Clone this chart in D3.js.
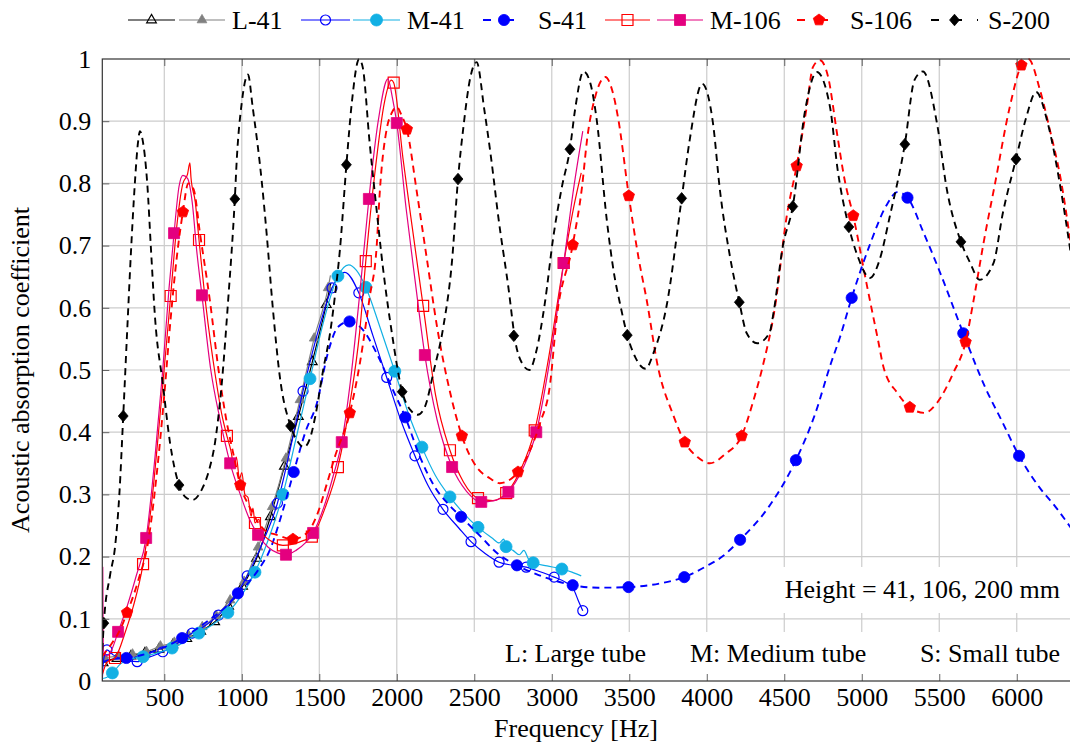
<!DOCTYPE html>
<html>
<head>
<meta charset="utf-8">
<script src="https://cdn.jsdelivr.net/npm/d3@7"></script>
<style>
  body { margin: 0; background: #fff; }
  svg { display: block; }
  svg text { font-family: "Liberation Serif", "DejaVu Serif", serif; fill: #000; }
</style>
</head>
<body>
<svg id="chart" width="1070" height="751"></svg>
<script>
// ---------- axis ticks ----------
const freqDomain = [100, 6350];
const xTicks = [500, 1000, 1500, 2000, 2500, 3000, 3500, 4000, 4500, 5000, 5500, 6000];
const yTicks = [0, 0.1, 0.2, 0.3, 0.4, 0.5, 0.6, 0.7, 0.8, 0.9, 1];
const yTickLabels = ["0", "0.1", "0.2", "0.3", "0.4", "0.5", "0.6", "0.7", "0.8", "0.9", "1"];

// ---------- measured curves [frequency Hz, absorption] ----------
// L-41, first sample (black, open triangles)
const curveL41a = [[100,0.025],[105,0.029],[150,0.034],[250,0.039],[375,0.045],[465,0.051],[555,0.058],[645,0.068],[735,0.08],[825,0.095],[915,0.12],[1005,0.152],[1095,0.197],[1185,0.264],[1275,0.345],[1365,0.425],[1455,0.513],[1545,0.605],[1575,0.64]];
const marksL41a = [[105,0.029],[195,0.036],[285,0.040],[375,0.045],[465,0.051],[555,0.058],[645,0.068],[735,0.08],[825,0.095],[915,0.12],[1005,0.152],[1095,0.197],[1185,0.264],[1275,0.345],[1365,0.425],[1455,0.513],[1545,0.605]];

// L-41, second sample (gray, filled triangles)
const curveL41b = [[100,0.03],[115,0.037],[205,0.04],[295,0.043],[385,0.047],[475,0.056],[565,0.062],[655,0.074],[745,0.087],[835,0.105],[925,0.13],[1015,0.16],[1105,0.215],[1196,0.28],[1285,0.358],[1375,0.452],[1467,0.551],[1557,0.632],[1572,0.652]];
const marksL41b = [[115,0.037],[205,0.04],[295,0.043],[385,0.047],[475,0.056],[565,0.062],[655,0.074],[745,0.087],[835,0.105],[925,0.13],[1015,0.16],[1105,0.215],[1196,0.28],[1285,0.358],[1375,0.452],[1467,0.551],[1557,0.632]];

// M-41, first sample (blue, open circles)
const curveM41a = [[100,0.0],[106,0.03],[130,0.05],[170,0.042],[230,0.035],[325,0.031],[400,0.038],[490,0.047],[580,0.06],[680,0.077],[770,0.09],[850,0.106],[940,0.13],[1035,0.169],[1130,0.22],[1230,0.286],[1310,0.37],[1395,0.466],[1490,0.56],[1582,0.632],[1665,0.657],[1755,0.624],[1845,0.556],[1935,0.488],[2025,0.42],[2117,0.362],[2200,0.315],[2298,0.276],[2400,0.246],[2479,0.224],[2570,0.205],[2660,0.191],[2750,0.186],[2835,0.183],[2920,0.176],[3015,0.167],[3100,0.157],[3140,0.148],[3170,0.13],[3200,0.113]];
const marksM41a = [[130,0.05],[325,0.031],[490,0.047],[680,0.077],[850,0.106],[1035,0.169],[1230,0.286],[1395,0.466],[1582,0.632],[1755,0.624],[1935,0.488],[2117,0.362],[2298,0.276],[2479,0.224],[2660,0.191],[2835,0.183],[3015,0.167],[3200,0.113]];

// M-41, second sample (cyan, filled circles)
const curveM41b = [[100,0.004],[130,0.006],[165,0.013],[220,0.028],[280,0.035],[363,0.039],[450,0.045],[550,0.053],[640,0.064],[723,0.077],[820,0.092],[910,0.11],[1000,0.138],[1085,0.175],[1175,0.23],[1265,0.3],[1350,0.39],[1440,0.486],[1530,0.58],[1620,0.651],[1690,0.669],[1740,0.66],[1800,0.633],[1890,0.57],[1987,0.498],[2075,0.43],[2162,0.376],[2250,0.33],[2343,0.296],[2430,0.27],[2524,0.247],[2615,0.23],[2660,0.222],[2690,0.228],[2705,0.216],[2750,0.21],[2790,0.203],[2820,0.21],[2850,0.196],[2880,0.19],[2970,0.185],[3065,0.18],[3130,0.175],[3190,0.169]];
const marksM41b = [[165,0.013],[363,0.039],[550,0.053],[723,0.077],[910,0.11],[1085,0.175],[1265,0.3],[1440,0.486],[1620,0.651],[1800,0.633],[1987,0.498],[2162,0.376],[2343,0.296],[2524,0.247],[2705,0.216],[2880,0.19],[3065,0.18]];

// S-41 (blue dashed, filled circles)
const curveS41 = [[100,0.03],[160,0.035],[255,0.037],[400,0.045],[615,0.069],[800,0.1],[900,0.12],[975,0.141],[1050,0.16],[1110,0.18],[1180,0.21],[1260,0.27],[1335,0.336],[1410,0.4],[1485,0.447],[1555,0.527],[1620,0.569],[1695,0.578],[1783,0.564],[1870,0.527],[1975,0.468],[2055,0.424],[2150,0.36],[2250,0.31],[2330,0.285],[2415,0.264],[2550,0.23],[2650,0.205],[2775,0.186],[2900,0.172],[3000,0.163],[3135,0.154],[3300,0.15],[3495,0.151],[3700,0.157],[3855,0.167],[4000,0.185],[4100,0.2],[4215,0.227],[4400,0.28],[4575,0.355],[4700,0.43],[4800,0.51],[4860,0.553],[4935,0.616],[5050,0.7],[5160,0.765],[5230,0.786],[5295,0.777],[5400,0.72],[5500,0.66],[5655,0.559],[5800,0.47],[5900,0.42],[6015,0.362],[6150,0.31],[6250,0.28],[6350,0.246]];
const marksS41 = [[255,0.037],[615,0.069],[975,0.141],[1335,0.336],[1695,0.578],[2055,0.424],[2415,0.264],[2775,0.186],[3135,0.154],[3495,0.151],[3855,0.167],[4215,0.227],[4575,0.355],[4935,0.616],[5295,0.777],[5655,0.559],[6015,0.362]];

// M-106, first sample (red, open squares)
const curveM106a = [[100,0.01],[130,0.03],[182,0.037],[250,0.08],[300,0.12],[363,0.188],[420,0.29],[470,0.42],[541,0.619],[580,0.73],[620,0.8],[650,0.815],[665,0.833],[672,0.81],[700,0.77],[724,0.709],[770,0.6],[830,0.49],[870,0.43],[904,0.394],[930,0.37],[950,0.345],[965,0.36],[985,0.325],[1000,0.335],[1020,0.3],[1040,0.295],[1060,0.265],[1072,0.278],[1085,0.254],[1110,0.26],[1130,0.238],[1150,0.232],[1210,0.222],[1265,0.218],[1330,0.22],[1400,0.226],[1452,0.232],[1540,0.28],[1620,0.344],[1700,0.45],[1760,0.56],[1800,0.675],[1860,0.82],[1920,0.93],[1965,0.966],[1980,0.962],[2040,0.84],[2105,0.72],[2170,0.603],[2250,0.46],[2343,0.371],[2430,0.32],[2524,0.294],[2620,0.29],[2706,0.302],[2800,0.34],[2890,0.403],[2980,0.52],[3077,0.672],[3140,0.76],[3190,0.817]];
const marksM106a = [[182,0.037],[363,0.188],[541,0.619],[724,0.709],[904,0.394],[1085,0.254],[1265,0.218],[1452,0.232],[1620,0.344],[1800,0.675],[1980,0.962],[2170,0.603],[2343,0.371],[2524,0.294],[2706,0.302],[2890,0.403],[3077,0.672]];

// M-106, second sample (magenta, filled squares)
const curveM106b = [[100,0.0],[103,0.183],[106,0.05],[130,0.04],[160,0.05],[202,0.079],[260,0.12],[320,0.17],[383,0.23],[440,0.36],[490,0.5],[530,0.63],[563,0.72],[595,0.795],[620,0.813],[650,0.808],[680,0.77],[710,0.69],[743,0.62],[800,0.5],[860,0.42],[925,0.35],[990,0.3],[1050,0.26],[1105,0.235],[1170,0.215],[1230,0.206],[1285,0.203],[1350,0.21],[1410,0.222],[1460,0.238],[1530,0.28],[1590,0.33],[1645,0.384],[1700,0.48],[1760,0.62],[1820,0.775],[1880,0.9],[1943,0.968],[1970,0.94],[2000,0.897],[2060,0.76],[2120,0.64],[2181,0.524],[2260,0.42],[2357,0.344],[2450,0.305],[2545,0.288],[2630,0.29],[2720,0.304],[2810,0.34],[2900,0.4],[2990,0.52],[3077,0.672],[3140,0.79],[3200,0.884]];
const marksM106b = [[202,0.079],[383,0.23],[563,0.72],[743,0.62],[925,0.35],[1105,0.235],[1285,0.203],[1460,0.238],[1645,0.384],[1820,0.775],[2000,0.897],[2181,0.524],[2357,0.344],[2545,0.288],[2720,0.304],[2900,0.4],[3077,0.672]];

// S-106 (red dashed, filled pentagons)
const curveS106 = [[100,0.04],[160,0.06],[210,0.08],[260,0.11],[330,0.16],[400,0.23],[450,0.33],[500,0.46],[540,0.58],[580,0.68],[620,0.754],[655,0.8],[690,0.79],[730,0.72],[795,0.61],[850,0.5],[900,0.42],[950,0.36],[990,0.315],[1050,0.28],[1100,0.257],[1150,0.242],[1225,0.235],[1330,0.228],[1420,0.238],[1490,0.27],[1550,0.318],[1600,0.36],[1697,0.431],[1762,0.511],[1825,0.617],[1870,0.698],[1890,0.785],[1937,0.89],[1965,0.912],[2000,0.923],[2030,0.91],[2065,0.887],[2130,0.785],[2195,0.677],[2260,0.569],[2345,0.463],[2420,0.394],[2515,0.344],[2600,0.326],[2665,0.318],[2720,0.322],[2782,0.336],[2860,0.371],[2925,0.415],[2990,0.479],[3030,0.58],[3135,0.701],[3195,0.794],[3230,0.875],[3280,0.939],[3345,0.971],[3395,0.945],[3430,0.902],[3497,0.78],[3560,0.68],[3612,0.613],[3685,0.505],[3783,0.428],[3858,0.384],[3940,0.36],[4020,0.35],[4120,0.365],[4225,0.394],[4300,0.45],[4360,0.505],[4440,0.601],[4515,0.746],[4580,0.828],[4645,0.923],[4685,0.987],[4730,0.998],[4783,0.971],[4840,0.881],[4890,0.805],[4945,0.748],[5030,0.64],[5105,0.548],[5140,0.505],[5230,0.463],[5310,0.44],[5405,0.431],[5485,0.447],[5590,0.495],[5670,0.545],[5720,0.61],[5790,0.71],[5860,0.8],[5955,0.923],[6030,0.99],[6075,1.0],[6150,0.95],[6210,0.89],[6285,0.805],[6350,0.7]];
const marksS106 = [[260,0.11],[620,0.754],[990,0.315],[1330,0.228],[1697,0.431],[2065,0.887],[2420,0.394],[2782,0.336],[3135,0.701],[3497,0.78],[3858,0.384],[4225,0.394],[4580,0.828],[4945,0.748],[5310,0.44],[5670,0.545],[6030,0.99]];

// S-200 (black dashed, filled diamonds)
const curveS200 = [[100,0.05],[110,0.093],[150,0.17],[182,0.215],[210,0.3],[235,0.426],[260,0.56],[285,0.69],[310,0.8],[330,0.865],[343,0.884],[360,0.87],[390,0.8],[415,0.69],[440,0.585],[490,0.479],[537,0.383],[595,0.315],[640,0.295],[680,0.291],[750,0.312],[790,0.34],[827,0.383],[871,0.479],[912,0.612],[955,0.775],[968,0.84],[1000,0.93],[1040,0.975],[1070,0.923],[1130,0.8],[1160,0.72],[1200,0.6],[1245,0.49],[1315,0.41],[1360,0.385],[1400,0.376],[1440,0.39],[1473,0.424],[1525,0.5],[1570,0.56],[1600,0.617],[1633,0.693],[1675,0.83],[1710,0.93],[1757,1.0],[1780,0.987],[1825,0.865],[1870,0.757],[1910,0.666],[1968,0.56],[2035,0.465],[2090,0.435],[2135,0.428],[2180,0.44],[2240,0.5],[2300,0.569],[2357,0.677],[2395,0.807],[2430,0.891],[2475,0.971],[2515,0.995],[2565,0.918],[2610,0.838],[2655,0.746],[2720,0.633],[2767,0.543],[2810,0.51],[2855,0.5],[2900,0.53],[2955,0.607],[3010,0.714],[3065,0.794],[3117,0.855],[3150,0.918],[3205,0.98],[3250,0.96],[3290,0.902],[3355,0.741],[3405,0.65],[3440,0.607],[3487,0.556],[3540,0.52],[3605,0.502],[3660,0.53],[3740,0.602],[3838,0.776],[3890,0.87],[3970,0.96],[4040,0.897],[4085,0.789],[4150,0.682],[4210,0.609],[4258,0.559],[4325,0.543],[4405,0.56],[4430,0.591],[4490,0.698],[4555,0.763],[4635,0.918],[4710,0.979],[4795,0.923],[4845,0.821],[4917,0.73],[4975,0.682],[5053,0.648],[5115,0.677],[5180,0.746],[5278,0.863],[5340,0.966],[5395,0.98],[5485,0.897],[5550,0.789],[5640,0.706],[5700,0.672],[5760,0.645],[5850,0.672],[5910,0.752],[5995,0.839],[6060,0.905],[6125,0.947],[6200,0.897],[6285,0.789],[6350,0.685]];
const marksS200 = [[110,0.093],[235,0.426],[595,0.315],[955,0.775],[1315,0.41],[1675,0.83],[2035,0.465],[2395,0.807],[2755,0.555],[3117,0.855],[3487,0.556],[3838,0.776],[4210,0.609],[4555,0.763],[4917,0.73],[5278,0.863],[5640,0.706],[5995,0.839]];

// ---------- labels ----------
const xLabel = "Frequency [Hz]";
const yLabel = "Acoustic absorption coefficient";
const heightNote = "Height = 41, 106, 200 mm";
const tubeNotes = ["L: Large tube", "M: Medium tube", "S: Small tube"];

// ---------- series styling, in drawing order ----------
const series = [
  {name: "L-41",  curve: curveL41a,  marks: marksL41a,  color: "#000000", dash: null,  width: 1.2, mark: "triangle", fill: false},
  {name: "L-41",  curve: curveL41b,  marks: marksL41b,  color: "#808080", dash: null,  width: 1.2, mark: "triangle", fill: true},
  {name: "M-41",  curve: curveM41a,  marks: marksM41a,  color: "#0000ff", dash: null,  width: 1.2, mark: "circle",   fill: false},
  {name: "M-41",  curve: curveM41b,  marks: marksM41b,  color: "#12b0e4", dash: null,  width: 1.2, mark: "circleBig", fill: true},
  {name: "S-41",  curve: curveS41,   marks: marksS41,   color: "#0000ff", dash: "7,5", width: 1.9, mark: "circleMid", fill: true},
  {name: "M-106", curve: curveM106a, marks: marksM106a, color: "#ff0000", dash: null,  width: 1.2, mark: "square",   fill: false},
  {name: "M-106", curve: curveM106b, marks: marksM106b, color: "#e4007f", dash: null,  width: 1.2, mark: "square",   fill: true},
  {name: "S-106", curve: curveS106,  marks: marksS106,  color: "#ff0000", dash: "7,5", width: 1.9, mark: "pentagon", fill: true},
  {name: "S-200", curve: curveS200,  marks: marksS200,  color: "#000000", dash: "7,5", width: 1.9, mark: "diamond",  fill: true}
];

// ---------- layout ----------
const plot = {left: 102.3, right: 1071, top: 59, bottom: 681};
const fontSize = 26;
const serif = "'Liberation Serif', 'DejaVu Serif', serif";

const svg = d3.select("#chart");
const x = d3.scaleLinear().domain(freqDomain).range([plot.left, plot.right]);
const y = d3.scaleLinear().domain([0, 1]).range([plot.bottom, plot.top]);

// marker shapes centred at the origin
function markerPath(kind) {
  const p = d3.path();
  if (kind === "triangle") {
    const r = 5.6;
    p.moveTo(0, -r);
    p.lineTo(r * 0.866, r * 0.5);
    p.lineTo(-r * 0.866, r * 0.5);
    p.closePath();
  } else if (kind === "circle") {
    p.arc(0, 0, 5, 0, 2 * Math.PI);
  } else if (kind === "circleBig") {
    p.arc(0, 0, 6, 0, 2 * Math.PI);
  } else if (kind === "circleMid") {
    p.arc(0, 0, 5.6, 0, 2 * Math.PI);
  } else if (kind === "square") {
    const h = 5.5;
    p.rect(-h, -h, 2 * h, 2 * h);
  } else if (kind === "pentagon") {
    const r = 6;
    for (let i = 0; i < 5; i++) {
      const a = -Math.PI / 2 + i * 2 * Math.PI / 5;
      if (i === 0) p.moveTo(r * Math.cos(a), r * Math.sin(a));
      else p.lineTo(r * Math.cos(a), r * Math.sin(a));
    }
    p.closePath();
  } else if (kind === "diamond") {
    const r = 5.8;
    p.moveTo(0, -r); p.lineTo(r * 0.85, 0); p.lineTo(0, r); p.lineTo(-r * 0.85, 0); p.closePath();
  }
  return p.toString();
}

function drawMarker(g, s, cx, cy) {
  g.append("path")
    .attr("d", markerPath(s.mark))
    .attr("transform", `translate(${cx},${cy})`)
    .attr("fill", s.fill ? s.color : "none")
    .attr("stroke", s.color)
    .attr("stroke-width", s.fill ? 0.8 : 1.2);
}

function label(g, txt, xx, yy, anchor) {
  return g.append("text")
    .attr("x", xx).attr("y", yy)
    .attr("text-anchor", anchor || "start")
    .attr("font-size", fontSize)
    .attr("font-family", serif)
    .text(txt);
}

// ---------- grid ----------
const grid = svg.append("g").attr("stroke", "#cccccc").attr("stroke-width", 1.2);
grid.selectAll("line.gx").data(xTicks).join("line")
  .attr("x1", d => x(d)).attr("x2", d => x(d))
  .attr("y1", plot.top).attr("y2", plot.bottom);
grid.selectAll("line.gy").data(yTicks.slice(1, -1)).join("line")
  .attr("x1", plot.left).attr("x2", plot.right)
  .attr("y1", d => y(d)).attr("y2", d => y(d));

// ---------- curves ----------
svg.append("clipPath").attr("id", "plotClip")
  .append("rect")
  .attr("x", plot.left).attr("y", plot.top - 1)
  .attr("width", plot.right - plot.left).attr("height", plot.bottom - plot.top + 1);

const line = d3.line()
  .x(d => x(d[0]))
  .y(d => y(d[1]))
  .curve(d3.curveMonotoneX);

const plotArea = svg.append("g").attr("clip-path", "url(#plotClip)");
series.forEach(s => {
  const g = plotArea.append("g");
  g.append("path")
    .datum(s.curve)
    .attr("d", line)
    .attr("fill", "none")
    .attr("stroke", s.color)
    .attr("stroke-width", s.width)
    .attr("stroke-dasharray", s.dash)
    .attr("stroke-linejoin", "round");
  s.marks.forEach(m => drawMarker(g, s, x(m[0]), y(m[1])));
});

// ---------- annotation boxes ----------
const notes = svg.append("g");
notes.append("rect")
  .attr("x", 757).attr("y", 567).attr("width", plot.right - 757).attr("height", 46)
  .attr("fill", "#fff");
label(notes, heightNote, 1060, 598, "end");

notes.append("rect")
  .attr("x", 465).attr("y", 632).attr("width", plot.right - 465).attr("height", plot.bottom - 632)
  .attr("fill", "#fff");
label(notes, tubeNotes[0], 505, 662);
label(notes, tubeNotes[1], 690, 662);
label(notes, tubeNotes[2], 1060, 662, "end");

// ---------- axes ----------
const fmtY = d => yTickLabels[yTicks.indexOf(d)];

const gx = svg.append("g")
  .attr("transform", `translate(0,${plot.bottom})`)
  .call(d3.axisBottom(x).tickValues(xTicks).tickSizeInner(-7).tickSizeOuter(0).tickPadding(7).tickFormat(d3.format("d")));
const gxTop = svg.append("g")
  .attr("transform", `translate(0,${plot.top})`)
  .call(d3.axisTop(x).tickValues(xTicks).tickSizeInner(-7).tickSizeOuter(0).tickFormat(""));
const gy = svg.append("g")
  .attr("transform", `translate(${plot.left},0)`)
  .call(d3.axisLeft(y).tickValues(yTicks).tickSizeInner(-7).tickSizeOuter(0).tickPadding(11).tickFormat(fmtY));

[gx, gxTop, gy].forEach(g => {
  g.attr("font-family", serif).attr("font-size", fontSize);
  g.select(".domain").remove();
  g.selectAll(".tick line").attr("stroke", "#555").attr("stroke-width", 0.9);
  g.selectAll(".tick text").attr("fill", "#000");
});
gy.selectAll(".tick").filter(d => d === 0 || d === 1).select("line").remove();

svg.append("rect")
  .attr("x", plot.left).attr("y", plot.top)
  .attr("width", plot.right - plot.left).attr("height", plot.bottom - plot.top)
  .attr("fill", "none").attr("stroke", "#333").attr("stroke-width", 1.2);

label(svg, xLabel, 576, 737, "middle");

svg.append("text")
  .attr("transform", `translate(29,${(plot.top + plot.bottom) / 2}) rotate(-90)`)
  .attr("text-anchor", "middle")
  .attr("font-size", fontSize)
  .attr("font-family", serif)
  .text(yLabel);

// ---------- legend ----------
const legendY = 20;
const legendItems = [
  {parts: [[0, 128, 175], [1, 179, 225]], label: "L-41",  tx: 232},
  {parts: [[2, 301, 350], [3, 353, 400]], label: "M-41",  tx: 407},
  {parts: [[4, 483, 525]],                label: "S-41",  tx: 538},
  {parts: [[5, 605, 650], [6, 657, 703]], label: "M-106", tx: 710},
  {parts: [[7, 797, 841]],                label: "S-106", tx: 850},
  {parts: [[8, 931, 978]],                label: "S-200", tx: 988}
];
const legend = svg.append("g");
legendItems.forEach(item => {
  item.parts.forEach(([si, x0, x1]) => {
    const s = series[si];
    legend.append("line")
      .attr("x1", x0).attr("x2", x1).attr("y1", legendY).attr("y2", legendY)
      .attr("stroke", s.color).attr("stroke-width", s.width)
      .attr("stroke-dasharray", s.dash ? "8,15" : null);
    drawMarker(legend, s, (x0 + x1) / 2, legendY);
  });
  label(legend, item.label, item.tx, legendY + 9);
});
</script>
</body>
</html>
